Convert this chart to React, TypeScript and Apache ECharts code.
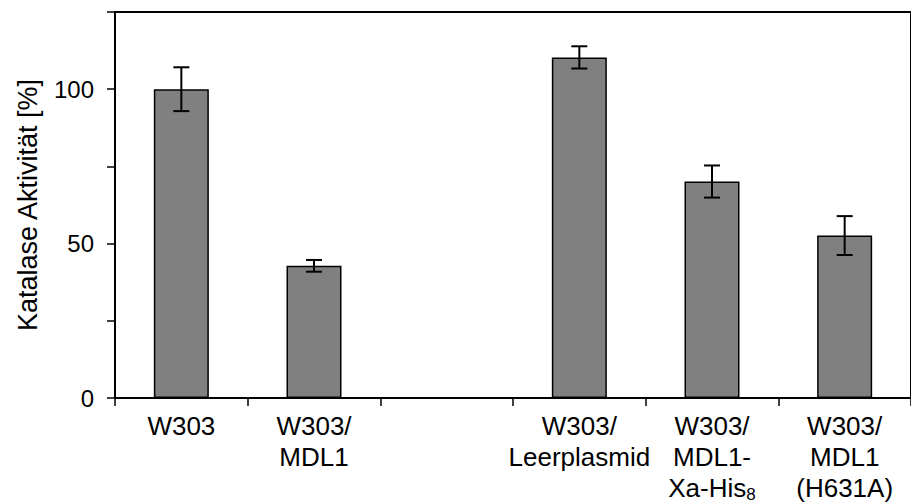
import React, { useEffect, useRef } from "react";
import * as echarts from "echarts";

const categories = [
  "W303",
  "W303/\nMDL1",
  "",
  "W303/\nLeerplasmid",
  "W303/\nMDL1-\nXa-His{sub|8}",
  "W303/\nMDL1\n(H631A)",
];
const values: (number | null)[] = [100, 42.8, null, 110.3, 70.1, 52.6];
const errors: (number | null)[] = [7.1, 1.9, null, 3.6, 5.2, 6.3];
const yTickLabels: Record<number, string> = { 0: "0", 50: "50", 100: "100" };

const FONT = "Liberation Sans";

export default function App() {
  const ref = useRef<HTMLDivElement>(null);
  useEffect(() => {
    if (!ref.current) return;
    const chart = echarts.init(ref.current, undefined, { renderer: "svg" });
    const barData = values.map((v) => (v == null ? "-" : v));
    const errData = values
      .map((v, i) =>
        v == null || errors[i] == null ? null : [i, v - (errors[i] as number), v + (errors[i] as number)]
      )
      .filter((d) => d != null);
    chart.setOption({
      animation: false,
      backgroundColor: "#fff",
      grid: {
        left: 115,
        top: 12,
        right: -11,
        bottom: 106,
        show: true,
        borderColor: "#000",
        borderWidth: 2,
        backgroundColor: "transparent",
      },
      xAxis: {
        type: "category",
        data: categories,
        boundaryGap: true,
        axisLine: { lineStyle: { color: "#000", width: 2 } },
        axisTick: { show: true, length: 8, interval: 0, lineStyle: { color: "#000", width: 1.5 } },
        axisLabel: {
          interval: 0,
          color: "#000",
          fontFamily: FONT,
          fontSize: 26,
          lineHeight: 31,
          margin: 12,
          rich: {
            sub: { fontSize: 17, fontFamily: FONT, color: "#000", verticalAlign: "bottom", lineHeight: 17, padding: [14, 0, 0, 0] },
          },
        },
      },
      yAxis: {
        type: "value",
        min: 0,
        max: 125,
        interval: 25,
        name: "Katalase Aktivität [%]",
        nameLocation: "middle",
        nameGap: 74,
        nameTextStyle: { color: "#000", fontFamily: FONT, fontSize: 27 },
        axisLine: { show: true, lineStyle: { color: "#000", width: 2 } },
        axisTick: { show: true, length: 8, lineStyle: { color: "#000", width: 1.5 } },
        splitLine: { show: false },
        axisLabel: {
          color: "#000",
          fontFamily: FONT,
          fontSize: 24,
          margin: 21,
          formatter: (v: number) => yTickLabels[v] ?? "",
        },
      },
      series: [
        {
          type: "bar",
          data: barData,
          barWidth: 55,
          itemStyle: { color: "#808080", borderColor: "#000", borderWidth: 1.5 },
        },
        {
          type: "custom",
          data: errData,
          renderItem: (params: any, api: any) => {
            const x = api.value(0);
            const lo = api.coord([x, api.value(1)]);
            const hi = api.coord([x, api.value(2)]);
            const hw = 8;
            const style = { stroke: "#000", lineWidth: 2 };
            return {
              type: "group",
              children: [
                { type: "line", shape: { x1: lo[0], y1: lo[1], x2: hi[0], y2: hi[1] }, style },
                { type: "line", shape: { x1: lo[0] - hw, y1: lo[1], x2: lo[0] + hw, y2: lo[1] }, style },
                { type: "line", shape: { x1: hi[0] - hw, y1: hi[1], x2: hi[0] + hw, y2: hi[1] }, style },
              ],
            };
          },
          z: 10,
        },
      ],
    });
    return () => chart.dispose();
  }, []);
  return <div ref={ref} style={{ width: 911, height: 504, position: "absolute", left: 0, top: 0 }} />;
}
